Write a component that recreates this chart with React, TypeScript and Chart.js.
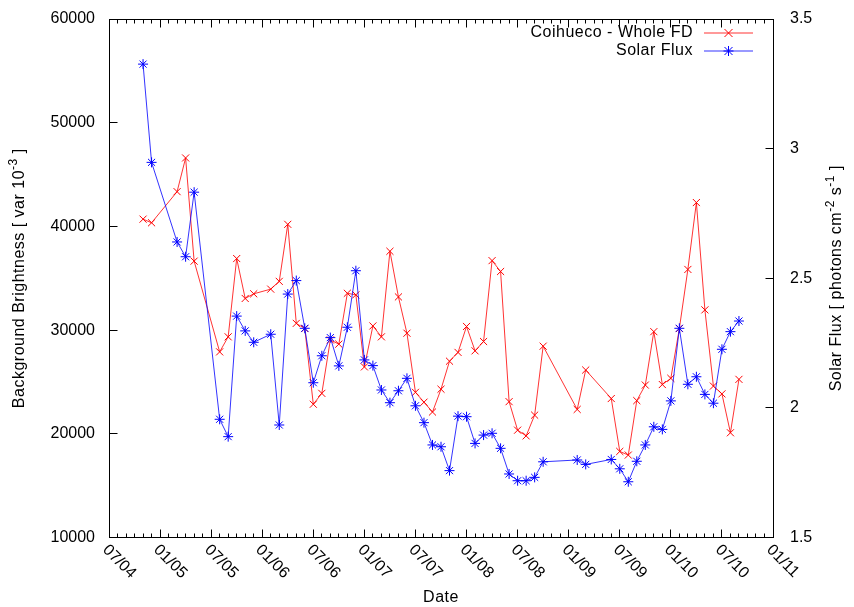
import React, { useEffect, useRef } from 'react';
import { Chart, registerables } from 'chart.js';

Chart.register(...registerables);

// months since July 2004 (0 = 07/04)
const months = [4, 5, 8, 9, 10, 13, 14, 15, 16, 17, 19, 20, 21, 22, 23, 24, 25, 26, 27, 28, 29, 30, 31, 32, 33, 34, 35, 36, 37, 38, 39, 40, 41, 42, 43, 44, 45, 46, 47, 48, 49, 50, 51, 55, 56, 59, 60, 61, 62, 63, 64, 65, 66, 67, 68, 69, 70, 71, 72, 73, 74];

const brightness = [40700, 40350, 43350, 46600, 36650, 27900, 29350, 36900, 33050, 33500, 33950, 34700, 40200, 30650, 30150, 22850, 23900, 29050, 28650, 33550, 33400, 26450, 30400, 29350, 37600, 33200, 29700, 24000, 23050, 22100, 24300, 27000, 27850, 30350, 28000, 28900, 36700, 35650, 23100, 20350, 19800, 21800, 28450, 22350, 26150, 23400, 18300, 17950, 23200, 24700, 29850, 24750, 25350, 30150, 35850, 42300, 31950, 24600, 23850, 20100, 25250];

const solarFlux = [3.326, 2.947, 2.64, 2.583, 2.832, 1.956, 1.889, 2.354, 2.297, 2.253, 2.284, 1.934, 2.439, 2.491, 2.307, 2.097, 2.201, 2.271, 2.162, 2.311, 2.529, 2.185, 2.163, 2.069, 2.02, 2.066, 2.114, 2.008, 1.943, 1.857, 1.85, 1.758, 1.968, 1.966, 1.863, 1.895, 1.902, 1.844, 1.745, 1.719, 1.719, 1.732, 1.792, 1.799, 1.782, 1.801, 1.765, 1.715, 1.794, 1.857, 1.927, 1.917, 2.027, 2.307, 2.091, 2.12, 2.052, 2.018, 2.226, 2.294, 2.335];

const xTickLabels = ['07/04', '01/05', '07/05', '01/06', '07/06', '01/07', '07/07', '01/08', '07/08', '01/09', '07/09', '01/10', '07/10', '01/11'];
const leftTicks = [10000, 20000, 30000, 40000, 50000, 60000];
const rightTicks = [1.5, 2, 2.5, 3, 3.5];

const seriesNames = ['Coihueco - Whole FD', 'Solar Flux'];
const FONT = '"Liberation Sans", Arial, sans-serif';
const RED = 'rgb(255,0,0)';
const BLUE = 'rgb(0,0,255)';

type Part = { t: string; sup?: boolean };

function drawRich(ctx: CanvasRenderingContext2D, parts: Part[], size: number) {
  const supSize = Math.round(size * 0.72);
  let total = 0;
  const widths = parts.map((p) => {
    ctx.font = `${p.sup ? supSize : size}px ${FONT}`;
    const w = ctx.measureText(p.t).width;
    total += w;
    return w;
  });
  let x = -total / 2;
  ctx.textAlign = 'left';
  ctx.textBaseline = 'middle';
  parts.forEach((p, i) => {
    ctx.font = `${p.sup ? supSize : size}px ${FONT}`;
    ctx.fillText(p.t, x, p.sup ? -6 : 0);
    x += widths[i];
  });
}

const decoPlugin = {
  id: 'gnuplotDeco',
  afterDraw(chart: any) {
    const { ctx, chartArea: a, scales } = chart;
    const xs = scales.x;
    const yl = scales.y;
    const yr = scales.y2;
    const L = Math.floor(a.left) + 0.5;
    const R = Math.floor(a.right) + 0.5;
    const T = Math.floor(a.top) + 0.5;
    const B = Math.floor(a.bottom) + 0.5;
    ctx.save();
    ctx.lineWidth = 1;
    const seg = (x1: number, y1: number, x2: number, y2: number, color: string) => {
      ctx.strokeStyle = color;
      ctx.beginPath();
      ctx.moveTo(x1, y1);
      ctx.lineTo(x2, y2);
      ctx.stroke();
    };
    // frame
    ctx.strokeStyle = '#000';
    ctx.strokeRect(L, T, R - L, B - T);
    // x ticks (monthly minor, half-year major), mirrored on top
    for (let m = xs.min; m <= xs.max; m++) {
      const px = Math.floor(xs.getPixelForValue(m)) + 0.5;
      const len = m % 6 === 0 ? 8 : 4;
      seg(px, B, px, B - len, '#000');
      seg(px, T, px, T + len, '#000');
    }
    leftTicks.forEach((v) => {
      const py = Math.floor(yl.getPixelForValue(v)) + 0.5;
      seg(L, py, L + 8, py, '#000');
    });
    rightTicks.forEach((v) => {
      const py = Math.floor(yr.getPixelForValue(v)) + 0.5;
      seg(R, py, R - 8, py, '#000');
    });
    // x tick labels rotated clockwise
    ctx.fillStyle = '#000';
    ctx.font = `16px ${FONT}`;
    xTickLabels.forEach((lab, i) => {
      const px = xs.getPixelForValue(i * 6);
      ctx.save();
      ctx.translate(px - 4, a.bottom + 10);
      ctx.rotate(Math.PI / 4);
      ctx.textAlign = 'left';
      ctx.textBaseline = 'middle';
      ctx.fillText(lab, 0, 0);
      ctx.restore();
    });
    // titles and key use slightly wider tracking
    (ctx as any).letterSpacing = '0.5px';
    ctx.textAlign = 'center';
    ctx.textBaseline = 'middle';
    ctx.font = `16px ${FONT}`;
    ctx.fillText('Date', (a.left + a.right) / 2, 598);
    ctx.save();
    ctx.translate(20, (a.top + a.bottom) / 2);
    ctx.rotate(-Math.PI / 2);
    drawRich(ctx, [{ t: 'Background Brightness [ var 10' }, { t: '-3', sup: true }, { t: ' ]' }], 16);
    ctx.restore();
    ctx.save();
    ctx.translate(837, (a.top + a.bottom) / 2);
    ctx.rotate(-Math.PI / 2);
    drawRich(ctx, [{ t: 'Solar Flux [ photons cm' }, { t: '-2', sup: true }, { t: ' s' }, { t: '-1', sup: true }, { t: ' ]' }], 16);
    ctx.restore();
    // legend (key)
    const rows = [
      { name: seriesNames[0], color: RED, line: 'rgba(255,0,0,0.8)', y: 33, star: false },
      { name: seriesNames[1], color: BLUE, line: 'rgba(0,0,255,0.8)', y: 51, star: true },
    ];
    rows.forEach((r) => {
      ctx.fillStyle = '#000';
      ctx.font = `16px ${FONT}`;
      ctx.textAlign = 'right';
      ctx.textBaseline = 'middle';
      ctx.fillText(r.name, 693, r.y);
      seg(704, r.y, 753, r.y, r.line);
      const cx = 728.5;
      const cy = r.y;
      const s = 4;
      seg(cx - s, cy - s, cx + s, cy + s, r.color);
      seg(cx - s, cy + s, cx + s, cy - s, r.color);
      if (r.star) {
        seg(cx - 5, cy, cx + 5, cy, r.color);
        seg(cx, cy - 5, cx, cy + 5, r.color);
      }
    });
    ctx.restore();
  },
};

const noVerticalPadding = (s: any, width: number) => {
  s.width = width;
  s.paddingTop = 0;
  s.paddingBottom = 0;
};

export default function App() {
  const ref = useRef<HTMLCanvasElement | null>(null);
  useEffect(() => {
    if (!ref.current) return;
    const red = months.map((m, i) => ({ x: m, y: brightness[i] }));
    const blue = months.map((m, i) => ({ x: m, y: solarFlux[i] }));
    const chart = new Chart(ref.current, {
      type: 'line',
      data: {
        datasets: [
          {
            label: seriesNames[1],
            data: blue,
            yAxisID: 'y2',
            borderColor: 'rgba(0,0,255,0.8)',
            backgroundColor: BLUE,
            borderWidth: 1,
            pointStyle: 'star',
            pointRadius: 5,
            pointBorderWidth: 1,
            pointBorderColor: BLUE,
            tension: 0,
            fill: false,
            order: 0,
          },
          {
            label: seriesNames[0],
            data: red,
            yAxisID: 'y',
            borderColor: 'rgba(255,0,0,0.8)',
            backgroundColor: RED,
            borderWidth: 1,
            pointStyle: 'crossRot',
            pointRadius: 5,
            pointBorderWidth: 1,
            pointBorderColor: RED,
            tension: 0,
            fill: false,
            order: 1,
          },
        ],
      },
      options: {
        animation: false,
        responsive: true,
        maintainAspectRatio: false,
        devicePixelRatio: 1,
        layout: { padding: { left: 0, right: 0, top: 19, bottom: 0 } },
        plugins: { legend: { display: false }, tooltip: { enabled: false } },
        scales: {
          x: {
            type: 'linear',
            min: 0,
            max: 78,
            grid: { display: false, drawTicks: false },
            border: { display: false },
            ticks: { display: false },
            afterFit: (s: any) => {
              s.height = 69.5;
              s.paddingLeft = 0;
              s.paddingRight = 0;
            },
          },
          y: {
            type: 'linear',
            position: 'left',
            min: 10000,
            max: 60000,
            grid: { display: false, drawTicks: false },
            border: { display: false },
            ticks: {
              stepSize: 10000,
              padding: 14,
              color: '#000',
              font: { family: FONT, size: 16 },
              callback: (v: any) => String(v),
            },
            afterFit: (s: any) => noVerticalPadding(s, 109),
          },
          y2: {
            type: 'linear',
            position: 'right',
            min: 1.5,
            max: 3.5,
            grid: { display: false, drawTicks: false },
            border: { display: false },
            ticks: {
              stepSize: 0.5,
              padding: 17,
              color: '#000',
              font: { family: FONT, size: 16 },
              callback: (v: any) => String(v),
            },
            afterFit: (s: any) => noVerticalPadding(s, 81),
          },
        },
      },
      plugins: [decoPlugin],
    });
    return () => chart.destroy();
  }, []);
  return (
    <div style={{ position: 'absolute', left: 0, top: 0, width: 854, height: 607, background: '#fff' }}>
      <canvas ref={ref} />
    </div>
  );
}
